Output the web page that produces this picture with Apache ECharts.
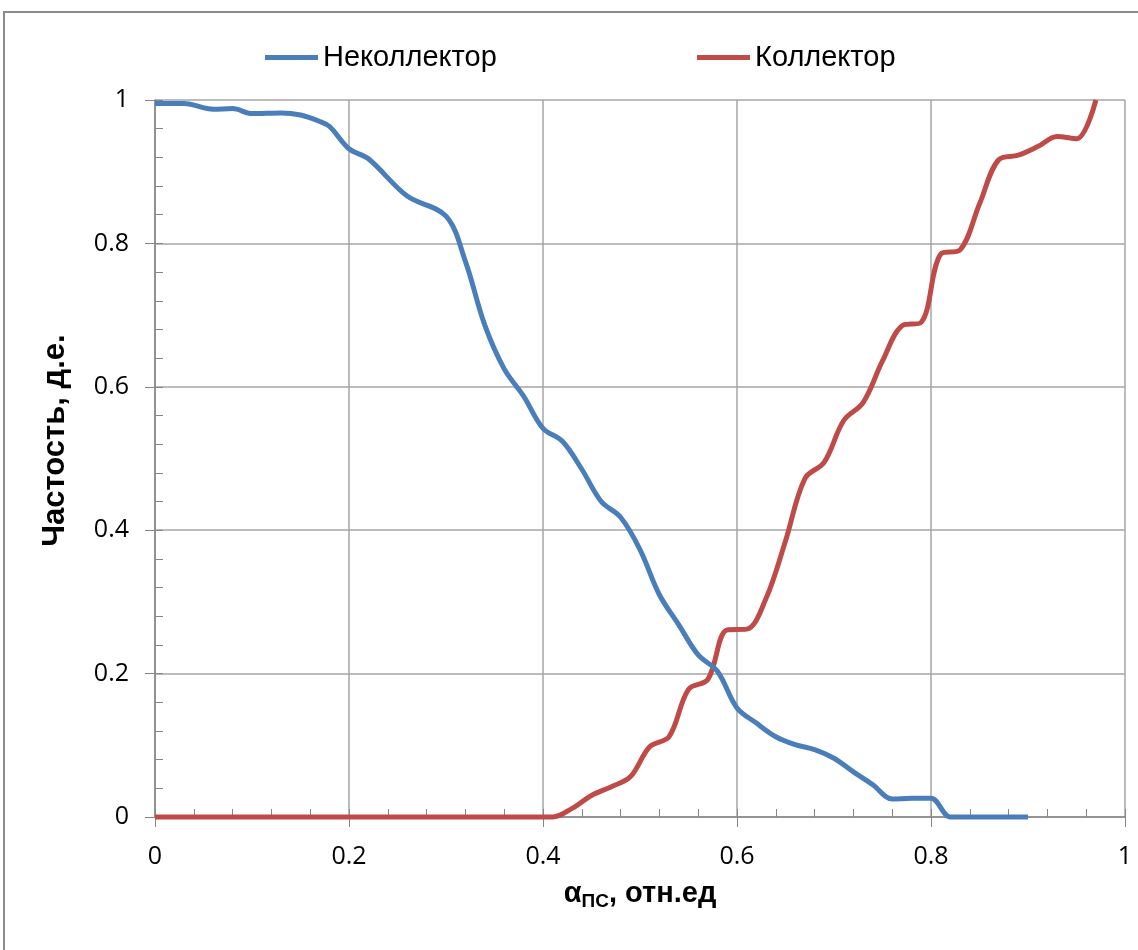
<!DOCTYPE html>
<html>
<head>
<meta charset="utf-8">
<script src="https://cdn.jsdelivr.net/npm/echarts@6/dist/echarts.min.js"></script>
<style>
	html, body { margin: 0; padding: 0; background: #fff; }
	#chart { width: 1138px; height: 950px; }
</style>
</head>
<body>
<div id="chart"></div>
<script>
	// Неколлектор (синяя кривая)
	var nekollX = [0, 0.03, 0.06, 0.08, 0.10, 0.13, 0.15, 0.17, 0.18, 0.20, 0.22, 0.26, 0.30, 0.32, 0.34, 0.36, 0.38, 0.40,
		0.42, 0.44, 0.46, 0.48, 0.50, 0.52, 0.54, 0.56, 0.58, 0.60, 0.62, 0.64, 0.66, 0.68, 0.70, 0.72, 0.74, 0.76, 0.78,
		0.80, 0.82, 0.84, 0.86, 0.88, 0.90]
	var nekollY = [0.995, 0.995, 0.987, 0.988, 0.981, 0.982, 0.979, 0.970, 0.963, 0.932, 0.918, 0.866, 0.838, 0.775, 0.686,
		0.625, 0.587, 0.542, 0.524, 0.485, 0.440, 0.418, 0.373, 0.310, 0.268, 0.226, 0.203, 0.152, 0.131, 0.112, 0.101,
		0.094, 0.082, 0.063, 0.045, 0.025, 0.026, 0.026, 0, 0, 0, 0, 0]
	// Коллектор (красная кривая)
	var kollX = [0, 0.41, 0.43, 0.45, 0.47, 0.49, 0.51, 0.53, 0.55, 0.57, 0.59, 0.61, 0.63, 0.65, 0.67, 0.69, 0.71, 0.73,
		0.75, 0.77, 0.79, 0.81, 0.83, 0.85, 0.87, 0.89, 0.91, 0.93, 0.95, 0.97]
	var kollY = [0, 0, 0.012, 0.030, 0.042, 0.056, 0.098, 0.112, 0.178, 0.192, 0.261, 0.262, 0.305, 0.385, 0.472, 0.495,
		0.553, 0.578, 0.636, 0.685, 0.690, 0.785, 0.791, 0.855, 0.917, 0.923, 0.935, 0.949, 0.946, 1.0]
	var tickLabels = ['0', '0.2', '0.4', '0.6', '0.8', '1']
	var seriesNames = ['Неколлектор', 'Коллектор']

	function pairs(xs, ys) {
		return xs.map(function (x, i) { return [x, ys[i]] })
	}

	var gridColor = '#a6a6a6'
	var axisColor = '#868686'
	var labelFont = { color: '#000', fontFamily: 'Open Sans', fontSize: 25 }
	var legendText = { color: '#000', fontFamily: 'Liberation Sans', fontSize: 29 }
	function fmt(v) {
		return tickLabels[Math.round(v / 0.2)]
	}

	var chart = echarts.init(document.getElementById('chart'))
	chart.setOption({
		animation: false,
		graphic: [{
			type: 'rect',
			shape: { x: 4, y: 12, width: 1200, height: 1000 },
			style: { fill: 'none', stroke: '#8c8c8c', lineWidth: 2 },
			z: 0
		}],
		grid: { left: 155, right: 13, top: 100, bottom: 133 },
		legend: [{
			data: [seriesNames[0]],
			left: 265,
			top: 43,
			padding: 0,
			icon: 'rect',
			itemWidth: 53,
			itemHeight: 5,
			textStyle: legendText
		}, {
			data: [seriesNames[1]],
			left: 697,
			top: 43,
			padding: 0,
			icon: 'rect',
			itemWidth: 53,
			itemHeight: 5,
			textStyle: legendText
		}],
		xAxis: [{
			type: 'value',
			min: 0,
			max: 1,
			interval: 0.2,
			name: '{a|α}{s|ПС}{a|, отн.ед}',
			nameLocation: 'middle',
			nameGap: 60,
			nameTextStyle: {
				rich: {
					a: { fontFamily: 'Liberation Sans', fontWeight: 'bold', fontSize: 29, color: '#000' },
					s: { fontFamily: 'Liberation Sans', fontWeight: 'bold', fontSize: 19, color: '#000', padding: [15, 0, 0, 0] }
				}
			},
			axisLine: { lineStyle: { color: axisColor, width: 1.5 } },
			axisTick: { show: true, inside: false, length: 10, lineStyle: { color: axisColor } },
			axisLabel: Object.assign({ margin: 27, formatter: fmt }, labelFont),
			splitLine: { show: true, lineStyle: { color: gridColor, width: 1.5 } }
		}, {
			// малые деления внутрь
			type: 'value',
			position: 'bottom',
			min: 0,
			max: 1,
			interval: 0.04,
			axisLine: { show: false },
			axisTick: { show: true, inside: true, length: 8, lineStyle: { color: axisColor } },
			axisLabel: { show: false },
			splitLine: { show: false }
		}],
		yAxis: [{
			type: 'value',
			min: 0,
			max: 1,
			interval: 0.2,
			name: 'Частость, д.е.',
			nameLocation: 'middle',
			nameGap: 84,
			nameTextStyle: {
				fontFamily: 'Liberation Sans', fontWeight: 'bold', fontSize: 31, color: '#000',
				padding: [0, 0, 0, 36]
			},
			axisLine: { show: true, lineStyle: { color: axisColor, width: 1.5 } },
			axisTick: { show: true, inside: false, length: 10, lineStyle: { color: axisColor } },
			axisLabel: Object.assign({ margin: 26, formatter: fmt }, labelFont),
			splitLine: { show: true, lineStyle: { color: gridColor, width: 1.5 } }
		}, {
			type: 'value',
			position: 'left',
			min: 0,
			max: 1,
			interval: 0.04,
			axisLine: { show: false },
			axisTick: { show: true, inside: true, length: 8, lineStyle: { color: axisColor } },
			axisLabel: { show: false },
			splitLine: { show: false }
		}],
		series: [{
			name: seriesNames[0],
			type: 'line',
			data: pairs(nekollX, nekollY),
			smooth: 0.35,
			showSymbol: false,
			clip: false,
			itemStyle: { color: '#4a7ebb' },
			lineStyle: { color: '#4a7ebb', width: 5 },
			z: 3
		}, {
			name: seriesNames[1],
			type: 'line',
			data: pairs(kollX, kollY),
			smooth: 0.35,
			showSymbol: false,
			clip: false,
			itemStyle: { color: '#be4b48' },
			lineStyle: { color: '#be4b48', width: 5 },
			z: 2
		}]
	})
</script>
</body>
</html>
